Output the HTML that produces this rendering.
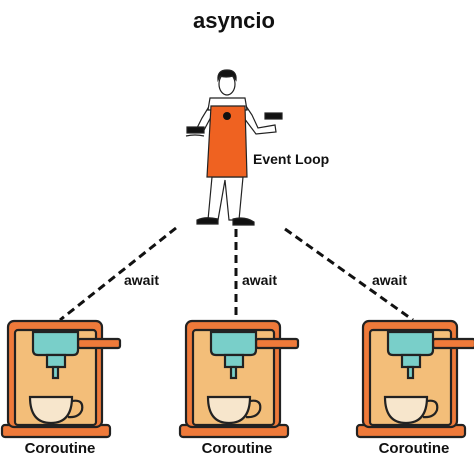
<!DOCTYPE html>
<html><head><style>body{margin:0;background:#fff}svg{display:block}text{font-family:"Liberation Sans",sans-serif;font-weight:bold;fill:#111}</style></head>
<body>
<svg width="474" height="461" viewBox="0 0 474 461" xmlns="http://www.w3.org/2000/svg">
<defs>
<g id="m" stroke="#222" stroke-width="2.2">
 <rect x="2" y="425" width="108" height="12" rx="3" fill="#ef7a3a"/>
 <rect x="8" y="321" width="94" height="106" rx="6" fill="#ef7a3a"/>
 <rect x="15" y="330" width="81" height="95" rx="3" fill="#f3be79"/>
 <rect x="78" y="339" width="42" height="9" rx="2" fill="#ef7a3a"/>
 <path d="M33 332 H78 V350 Q78 355 73 355 H38 Q33 355 33 350 Z" fill="#79cfc9"/>
 <rect x="47" y="355" width="18" height="12" fill="#79cfc9"/>
 <rect x="53" y="367" width="5" height="11" fill="#79cfc9"/>
 <path d="M30 397 H72 Q72 423 51 423 Q30 423 30 397 Z" fill="#f7e6cc"/>
 <path d="M72 401 Q84 399 82 410 Q79 418 68 417" fill="none"/>
</g>
</defs>
<text x="234" y="28" font-size="22" text-anchor="middle">asyncio</text>
<g stroke="#111" stroke-width="3" stroke-dasharray="8,5" fill="none">
 <line x1="176" y1="228" x2="60" y2="320"/>
 <line x1="236" y1="229" x2="236" y2="320"/>
 <line x1="285" y1="229" x2="413" y2="320"/>
</g>
<g stroke="#222" stroke-width="1.2">
 <path d="M212 177 L208 220 H218 L225 180 L229 220 H239 L243 177 Z" fill="#fff"/>
 <path d="M197 220 Q205 216 218 219 V224 H197 Z" fill="#111"/>
 <path d="M233 219 Q245 216 254 222 V225 H233 Z" fill="#111"/>
 <path d="M213 100 L202 118 L196 130 L203 132 L212 115 Z" fill="#fff"/>
 <path d="M242 100 L252 115 L258 128 L275 125 L276 132 L256 134 L244 118 Z" fill="#fff"/>
 <path d="M210 98 H245 L247 110 H208 Z" fill="#fff"/>
 <path d="M211 106 H245 L247 177 H207 Z" fill="#ef6221"/>
 <circle cx="227" cy="116" r="4" fill="#111" stroke="none"/>
 <ellipse cx="227" cy="84" rx="8" ry="11" fill="#fff"/>
 <path d="M218 80 Q217 70 227 70 Q237 70 236 80 L233 76 Q226 78 220 76 Z" fill="#111"/>
 <rect x="187" y="127" width="17" height="6" fill="#111"/>
 <rect x="265" y="113" width="17" height="6" fill="#111"/>
 <path d="M186 136 Q195 134 204 136" fill="none"/>
</g>
<text x="253" y="164" font-size="14">Event Loop</text>
<text x="124" y="285" font-size="14">await</text>
<text x="242" y="285" font-size="14">await</text>
<text x="372" y="285" font-size="14">await</text>
<use href="#m"/>
<use href="#m" x="178"/>
<use href="#m" x="355"/>
<text x="60" y="453" font-size="15" text-anchor="middle">Coroutine</text>
<text x="237" y="453" font-size="15" text-anchor="middle">Coroutine</text>
<text x="414" y="453" font-size="15" text-anchor="middle">Coroutine</text>
</svg>
</body></html>
